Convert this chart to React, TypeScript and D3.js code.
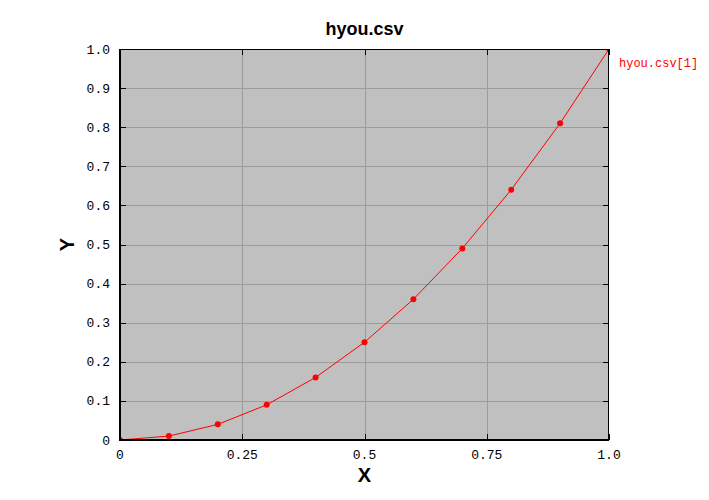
import React from "react";
import * as d3 from "d3";

const xValues = [0, 0.1, 0.2, 0.3, 0.4, 0.5, 0.6, 0.7, 0.8, 0.9, 1.0];
const yValues = [0, 0.01, 0.04, 0.09, 0.16, 0.25, 0.36, 0.49, 0.64, 0.81, 1.0];
const xTicks = [0, 0.25, 0.5, 0.75, 1.0];
const xTickLabels = ["0", "0.25", "0.5", "0.75", "1.0"];
const yTicks = [0, 0.1, 0.2, 0.3, 0.4, 0.5, 0.6, 0.7, 0.8, 0.9, 1.0];
const yTickLabels = ["0", "0.1", "0.2", "0.3", "0.4", "0.5", "0.6", "0.7", "0.8", "0.9", "1.0"];
const title = "hyou.csv";
const seriesName = "hyou.csv[1]";

export default function App() {
  const W = 709, H = 500;
  const L = 120, R = 609, T = 49, B = 440;
  const x = d3.scaleLinear().domain([0, 1]).range([L, R]);
  const y = d3.scaleLinear().domain([0, 1]).range([B, T]);
  const pts: [number, number][] = xValues.map((v, i) => [v, yValues[i]]);
  const line = d3.line<[number, number]>().x(d => x(d[0])).y(d => y(d[1]));
  const mono = "'Liberation Mono', monospace";
  const sans = "'Liberation Sans', sans-serif";
  return (
    <svg width={W} height={H} style={{ position: "absolute", left: 0, top: 0 }}>
      <rect x={0} y={0} width={W} height={H} fill="#fff" />
      <defs>
        <clipPath id="pa"><rect x={L} y={T} width={R - L} height={B - T} /></clipPath>
      </defs>
      <rect x={L} y={T} width={R - L} height={B - T} fill="#c0c0c0" />
      {xTicks.slice(1, -1).map((t, i) => (
        <line key={"gx" + i} x1={Math.round(x(t)) + 0.5} x2={Math.round(x(t)) + 0.5} y1={T} y2={B} stroke="#9c9c9c" strokeWidth={1} />
      ))}
      {yTicks.slice(1, -1).map((t, i) => (
        <line key={"gy" + i} x1={L} x2={R} y1={Math.round(y(t)) + 0.5} y2={Math.round(y(t)) + 0.5} stroke="#9c9c9c" strokeWidth={1} />
      ))}
      {yTicks.map((t, i) => (
        <g key={"ty" + i}>
          <line x1={L} x2={L + 6} y1={Math.round(y(t)) + 0.5} y2={Math.round(y(t)) + 0.5} stroke="#000" />
          <line x1={R - 6} x2={R} y1={Math.round(y(t)) + 0.5} y2={Math.round(y(t)) + 0.5} stroke="#000" />
        </g>
      ))}
      {xTicks.map((t, i) => (
        <g key={"tx" + i}>
          <line x1={Math.round(x(t)) + 0.5} x2={Math.round(x(t)) + 0.5} y1={B} y2={B - 6} stroke="#000" />
          <line x1={Math.round(x(t)) + 0.5} x2={Math.round(x(t)) + 0.5} y1={T} y2={T + 6} stroke="#000" />
        </g>
      ))}
      <g clipPath="url(#pa)">
        <path d={line(pts) || ""} fill="none" stroke="#ff0000" strokeWidth={1} />
        {pts.map((p, i) => (
          <circle key={"p" + i} cx={x(p[0])} cy={y(p[1])} r={3} fill="#ff0000" />
        ))}
      </g>
      <rect x={L + 0.5} y={T + 0.5} width={R - L - 1} height={B - T - 1} fill="none" stroke="#000" strokeWidth={1} />
      <line x1={L} x2={L} y1={T} y2={B + 1} stroke="#000" strokeWidth={2} />
      <line x1={L - 1} x2={R} y1={B} y2={B} stroke="#000" strokeWidth={2} />
      {yTicks.map((t, i) => (
        <text key={"ly" + i} x={L - 10} y={y(t)} dy="0.35em" textAnchor="end" fontFamily={mono} fontSize={13} fill="#000">{yTickLabels[i]}</text>
      ))}
      {xTicks.map((t, i) => (
        <text key={"lx" + i} x={x(t)} y={B + 19} textAnchor="middle" fontFamily={mono} fontSize={13} fill="#000">{xTickLabels[i]}</text>
      ))}
      <text x={(L + R) / 2} y={35} textAnchor="middle" fontFamily={sans} fontWeight="bold" fontSize={18} fill="#000">{title}</text>
      <text x={(L + R) / 2} y={482} textAnchor="middle" fontFamily={sans} fontWeight="bold" fontSize={20} fill="#000">X</text>
      <text transform={`translate(74,${(T + B) / 2}) rotate(-90)`} textAnchor="middle" fontFamily={sans} fontWeight="bold" fontSize={20} fill="#000">Y</text>
      <text x={619} y={67} fontFamily={mono} fontSize={12} fill="#ff0000">{seriesName}</text>
    </svg>
  );
}
